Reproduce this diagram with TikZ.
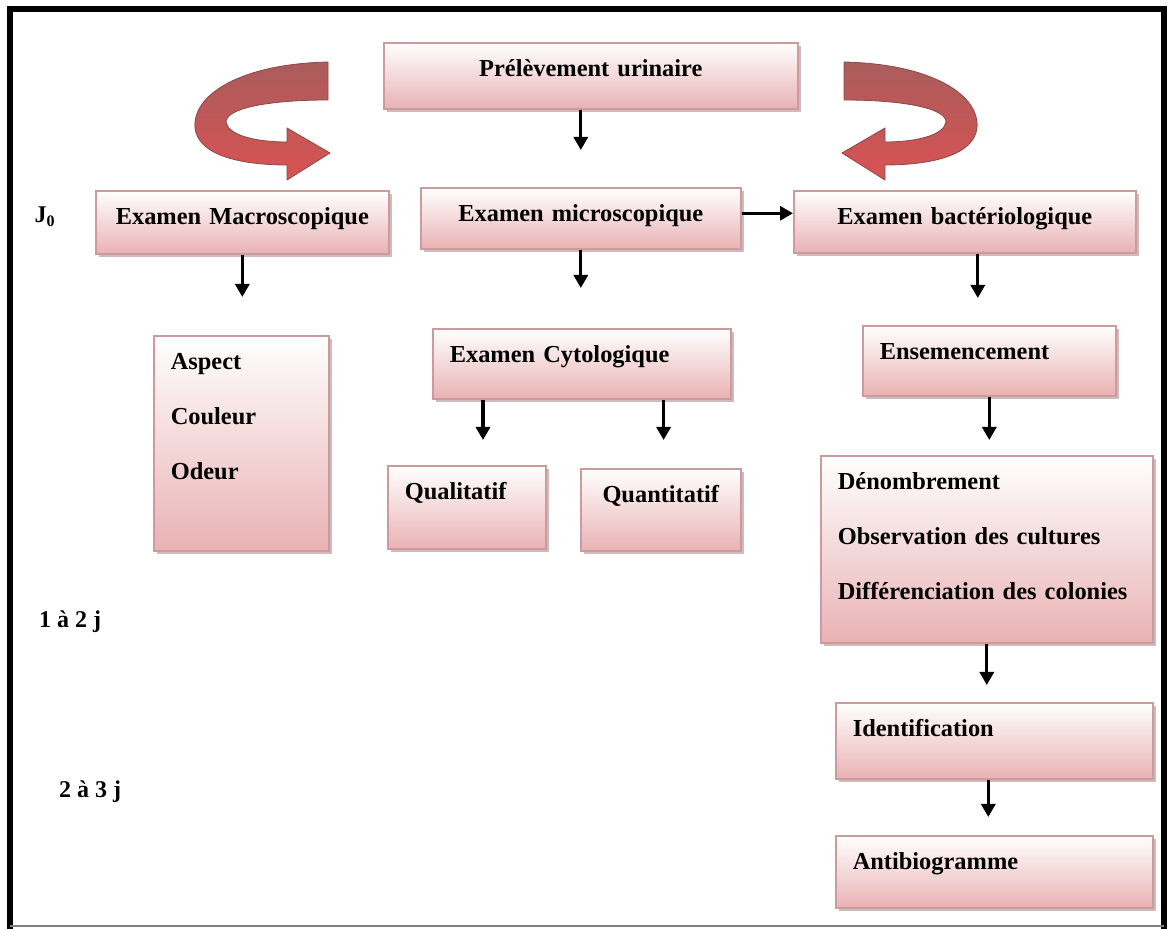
\documentclass[tikz,border=0pt]{standalone}
\usepackage{fontspec}
\setmainfont{Liberation Serif}
\usetikzlibrary{arrows.meta,shadows}

\definecolor{rose}{RGB}{233,178,180}
\definecolor{bord}{RGB}{205,155,155}
\definecolor{ombre}{RGB}{160,120,120}
\definecolor{rubanhaut}{RGB}{170,92,92}
\definecolor{rubanbas}{RGB}{218,82,82}

% ruban courbe (fleche 3D), en pixels
\newcommand{\rubancourbe}{(328,62) .. controls (240,64) and (192,95) .. (195,128)
  .. controls (198,155) and (240,165) .. (287,165) -- (287,180) -- (330,153)
  -- (287,128) -- (287,142) .. controls (255,142) and (228,135) .. (226,122)
  .. controls (226,108) and (270,100) .. (328,100) -- cycle}

\tikzset{
  boite/.style={draw=bord, line width=0.8pt, top color=white, bottom color=rose,
    drop shadow={shadow xshift=1.5pt, shadow yshift=-1.5pt, fill=ombre},
    anchor=north west, inner xsep=8.5pt, inner ysep=0pt, text height=17pt,
    align=left, font=\bfseries\fontsize{12.2}{27.5}\selectfont},
  fleche/.style={line width=1.6pt, -{Triangle[width=7pt,length=6.5pt]}},
  temps/.style={font=\bfseries\fontsize{12}{14}\selectfont},
  ruban/.style={top color=rubanhaut, bottom color=rubanbas, draw=rubanhaut!80!black, line width=0.4pt}
}

\begin{document}
\begin{tikzpicture}[x=0.5pt, y=-0.5pt] % 1 unite = 1 pixel
    \useasboundingbox (0,0) rectangle (1168,929);
    % Cadre
    \draw[line width=3pt] (10,929) -- (10,9.5) -- (1164,9.5) -- (1164,929);
    \draw[gray, line width=1pt] (10,926) -- (1164,926);
    % Fleches courbes
    \shade[ruban] \rubancourbe;
    \begin{scope}[xshift=586pt, xscale=-1]
        \shade[ruban] \rubancourbe;
    \end{scope}
    % Etapes
    \node[boite, text width=190pt, text depth=16pt, align=center] (prel) at (383,42) {Prélèvement urinaire};
    \node[boite, text width=129.5pt, text depth=14.5pt, align=center] (macro) at (95,190) {Examen Macroscopique};
    \node[boite, text width=143pt, text depth=13.5pt, align=center] (micro) at (420,187) {Examen microscopique};
    \node[boite, text width=154pt, text depth=14pt, align=center] (bact) at (793,190) {Examen bactériologique};
    \node[boite, text width=70.5pt, text depth=90.5pt] (aspect) at (153,335) {Aspect\\Couleur\\Odeur};
    \node[boite, text width=132pt, text depth=18pt] (cyto) at (432,328) {Examen Cytologique};
    \node[boite, text width=62pt, text depth=24.5pt] (quali) at (387,465) {Qualitatif};
    \node[boite, text width=63pt, text depth=24pt, align=center] (quanti) at (580,468) {Quantitatif};
    \node[boite, text width=109.5pt, text depth=18pt] (ense) at (862,325) {Ensemencement};
    \node[boite, text width=149pt, text depth=76.5pt] (denomb) at (820,455) {Dénombrement\\Observation des cultures\\Différenciation des colonies};
    \node[boite, text width=141.5pt, text depth=21pt] (ident) at (835,702) {Identification};
    \node[boite, text width=141.5pt, text depth=19pt] (antibio) at (835,835) {Antibiogramme};
    % Durees
    \node[temps] (j0) at (45,217) {J\textsubscript{0}};
    \node[temps] (j1) at (70,622) {1 à 2 j};
    \node[temps] (j2) at (90,792) {2 à 3 j};
    % Fleches
    \draw[fleche, shorten >=18.5pt] (prel.south -| micro.north) -- (micro.north);
    \draw[fleche, shorten >=19pt] (macro.south) -- (macro.south |- aspect.north);
    \draw[fleche, shorten >=20pt] (micro.south) -- (micro.south |- cyto.north);
    \draw[fleche] ([yshift=2.5pt]micro.east) -- ([yshift=2.5pt]micro.east -| bact.west);
    \draw[fleche, shorten >=13.5pt] ([xshift=6.5pt]bact.south) -- ([xshift=6.5pt]bact.south |- ense.north);
    \draw[fleche, shorten >=12.5pt] ([xshift=25.5pt]cyto.south west) -- ([xshift=25.5pt]cyto.south west |- quali.north);
    \draw[fleche, shorten >=14pt] ([xshift=-34pt]cyto.south east) -- ([xshift=-34pt]cyto.south east |- quanti.north);
    \draw[fleche, shorten >=7.5pt] (ense.south) -- (ense.south |- denomb.north);
    \draw[fleche, shorten >=8.5pt] (denomb.south) -- (denomb.south |- ident.north);
    \draw[fleche, shorten >=9pt] ([xshift=-3pt]ident.south) -- ([xshift=-3pt]ident.south |- antibio.north);
\end{tikzpicture}
\end{document}
